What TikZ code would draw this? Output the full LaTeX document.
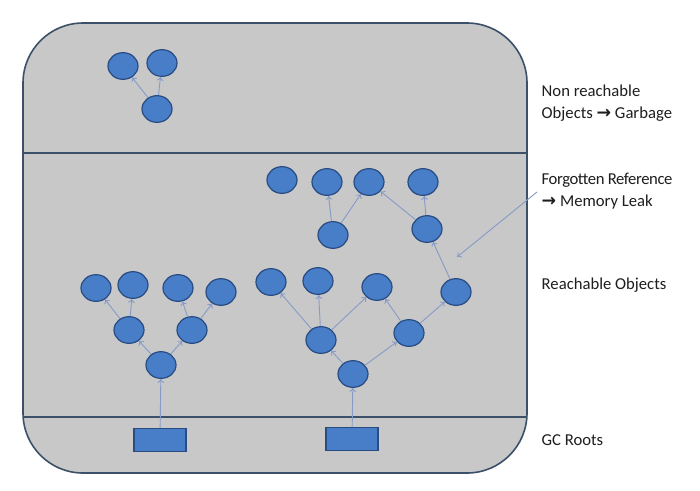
\documentclass[tikz,border=0pt]{standalone}
\usepackage{fontspec}
\setmainfont{Carlito}
\newfontfamily\arrowfont{DejaVu Sans}
\usetikzlibrary{shapes.geometric,arrows.meta}

\definecolor{heapgray}{RGB}{200,200,200}
\definecolor{heapline}{RGB}{60,80,105}
\definecolor{objfill}{RGB}{72,125,200}
\definecolor{objline}{RGB}{40,75,130}
\definecolor{reflink}{RGB}{135,155,200}
\definecolor{labeltext}{RGB}{30,30,30}

\newcommand{\toarrow}{{\arrowfont\fontsize{13}{13}\selectfont\textbf{→}}}

\tikzset{
  obj/.style={ellipse, draw=objline, fill=objfill, line width=0.9pt,
    minimum width=22.5pt, minimum height=20pt, inner sep=0pt},
  root/.style={rectangle, draw=objline, fill=objfill, line width=0.9pt,
    minimum width=39pt, minimum height=17pt, inner sep=0pt},
  ref/.style={-{To[length=3pt,width=5pt]}, draw=reflink, line width=0.7pt},
  side/.style={anchor=west, align=left, text=labeltext,
    font=\fontsize{12.5}{16.5}\selectfont},
}

\begin{document}
\begin{tikzpicture}[x=0.75pt, y=-0.75pt]
    \useasboundingbox (0,0) rectangle (700,490);
    \fill[white] (0,0) rectangle (700,490);
    % heap
    \draw[heapline, line width=1.2pt, fill=heapgray, rounded corners=45pt] (23,23) rectangle (527,473);
    \draw[heapline, line width=1.2pt] (23,153) -- (527,153);
    \draw[heapline, line width=1.2pt] (23,417) -- (527,417);

    % non reachable
    \node[obj] (g1) at (123,66) {};
    \node[obj] (g2) at (162,63) {};
    \node[obj] (g3) at (157,109) {};
    \draw[ref] (g3) -- (g1);
    \draw[ref] (g3) -- (g2);

    % left tree
    \node[root] (r1) at (160,440) {};
    \node[obj] (a1) at (161,365) {};
    \node[obj] (a2) at (129,330) {};
    \node[obj] (a3) at (192,330) {};
    \node[obj] (a4) at (96,288) {};
    \node[obj] (a5) at (133,285) {};
    \node[obj] (a6) at (178,288) {};
    \node[obj] (a7) at (221,292) {};
    \draw[ref] (r1) -- (a1);
    \draw[ref] (a1) -- (a2);
    \draw[ref] (a1) -- (a3);
    \draw[ref] (a2) -- (a4);
    \draw[ref] (a2) -- (a5);
    \draw[ref] (a3) -- (a6);
    \draw[ref] (a3) -- (a7);

    % right tree
    \node[root] (r2) at (352,439) {};
    \node[obj] (b1) at (353,374) {};
    \node[obj] (b2) at (321,340) {};
    \node[obj] (b3) at (409,333) {};
    \node[obj] (b4) at (271,282) {};
    \node[obj] (b5) at (318,281) {};
    \node[obj] (b6) at (377,287) {};
    \node[obj] (b7) at (456,292) {};
    \node[obj] (b8) at (427,229) {};
    \node[obj] (b9) at (333,235) {};
    \node[obj] (c1) at (282,180) {};
    \node[obj] (c2) at (327,182) {};
    \node[obj] (c3) at (369,182) {};
    \node[obj] (c4) at (423,182) {};
    \draw[ref] (r2) -- (b1);
    \draw[ref] (b1) -- (b2);
    \draw[ref] (b1) -- (b3);
    \draw[ref] (b2) -- (b4);
    \draw[ref] (b2) -- (b5);
    \draw[ref] (b2) -- (b6);
    \draw[ref] (b3) -- (b6);
    \draw[ref] (b3) -- (b7);
    \draw[ref] (b7) -- (b8);
    \draw[ref] (b8) -- (c3);
    \draw[ref] (b8) -- (c4);
    \draw[ref] (b9) -- (c2);
    \draw[ref] (b9) -- (c3);

    % labels
    \node[side] (garbage) at (537,103) {Non reachable\\Objects \toarrow{} Garbage};
    \node[side] (leak) at (537,191) {{\addfontfeature{LetterSpace=-2.5}Forgotten Reference}\\\toarrow{} Memory Leak};
    \node[side] (reach) at (537,285) {Reachable Objects};
    \node[side] (roots) at (537,440) {GC Roots};
    \coordinate (leakend) at (457,257);
    \draw[ref] (leak.west |- 0,192) -- (leakend);
\end{tikzpicture}
\end{document}
